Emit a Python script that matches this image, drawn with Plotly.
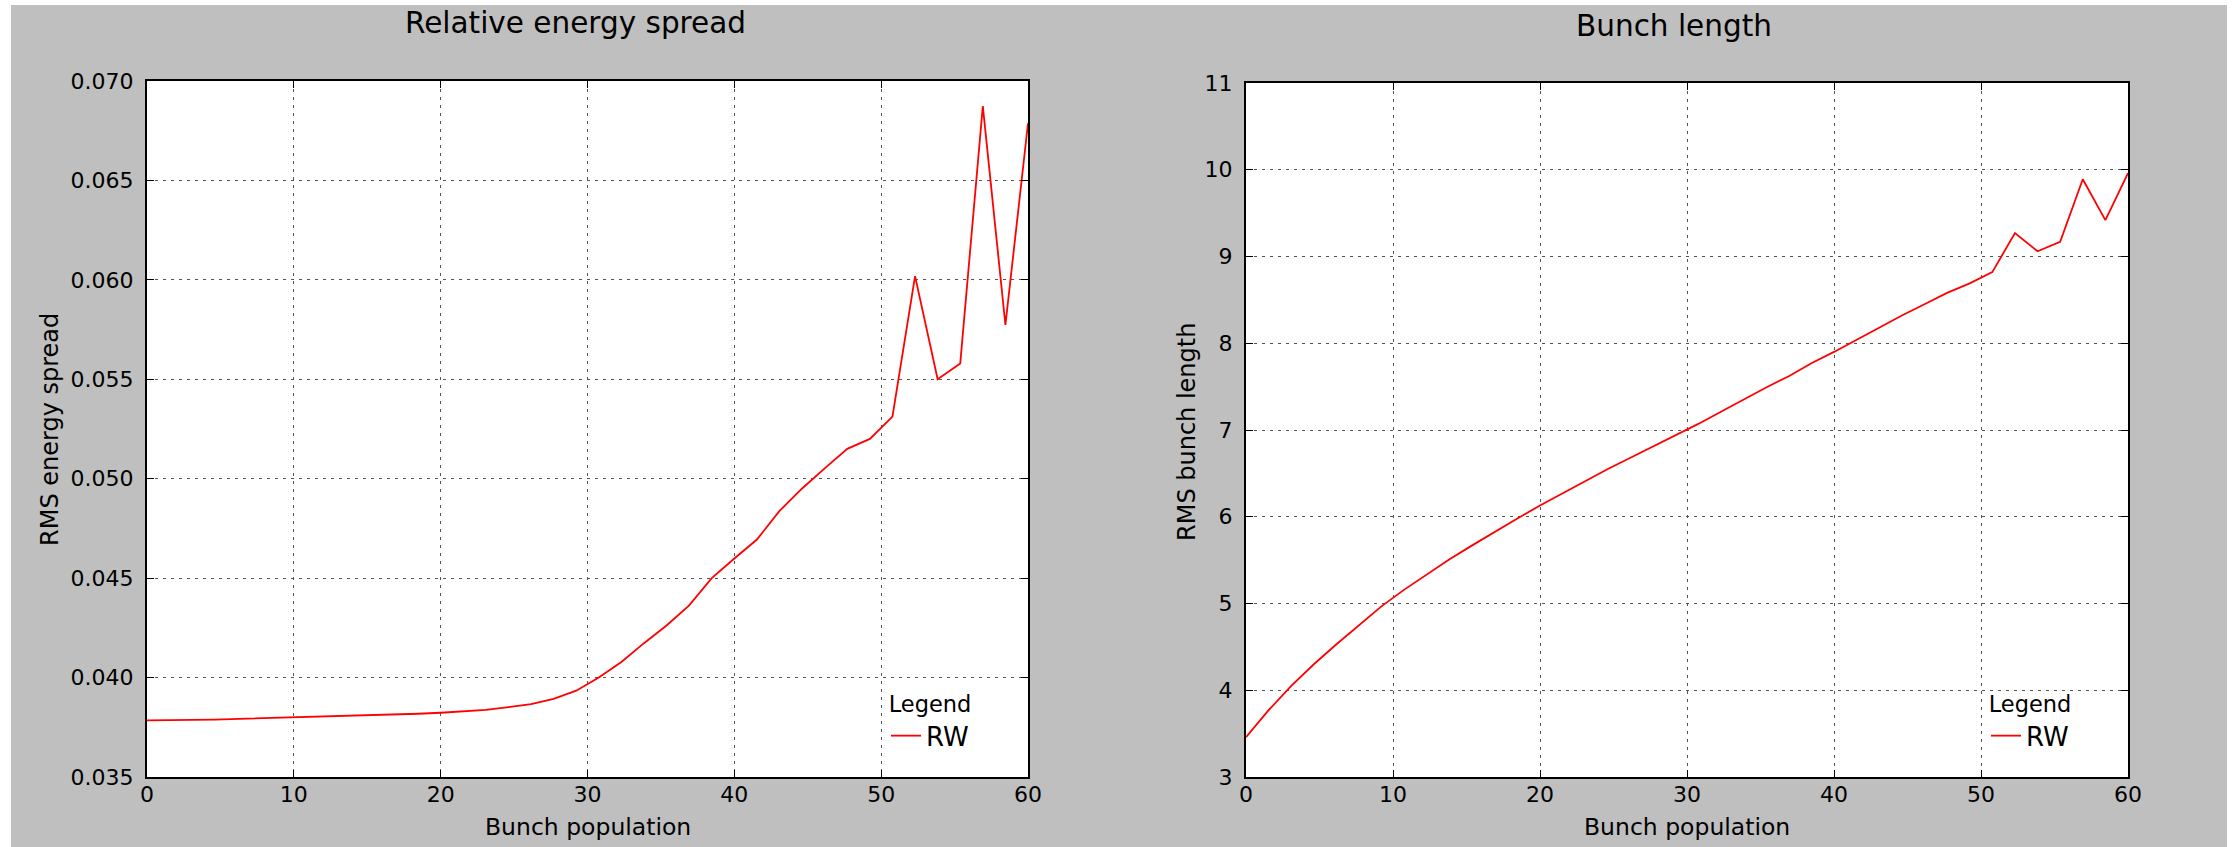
import plotly.graph_objects as go

W, H = 2236, 847

# ---- data ----
bunch_population = [0.0, 1.538, 3.077, 4.615, 6.154, 7.692, 9.231, 10.769, 12.308, 13.846,
                    15.385, 16.923, 18.462, 20.0, 21.538, 23.077, 24.615, 26.154, 27.692, 29.231,
                    30.769, 32.308, 33.846, 35.385, 36.923, 38.462, 40.0, 41.538, 43.077, 44.615,
                    46.154, 47.692, 49.231, 50.769, 52.308, 53.846, 55.385, 56.923, 58.462, 60.0]

energy_spread = [0.03785, 0.03785, 0.03787, 0.03789, 0.03792, 0.03794, 0.03797, 0.03800, 0.03803, 0.03806,
                 0.03809, 0.03813, 0.03818, 0.03823, 0.03829, 0.03838, 0.03851, 0.03866, 0.03893, 0.03934,
                 0.04000, 0.04078, 0.04173, 0.04262, 0.04363, 0.04500, 0.04599, 0.04694, 0.04838, 0.04951,
                 0.05052, 0.05150, 0.05200, 0.05312, 0.06019, 0.05500, 0.05580, 0.06874, 0.05773, 0.06787]

bunch_length = [3.46, 3.77, 4.05, 4.30, 4.53, 4.75, 4.97, 5.16, 5.34, 5.51,
                5.67, 5.83, 5.98, 6.13, 6.27, 6.41, 6.55, 6.68, 6.81, 6.94,
                7.07, 7.21, 7.35, 7.49, 7.62, 7.77, 7.90, 8.04, 8.18, 8.32,
                8.45, 8.58, 8.69, 8.82, 9.27, 9.06, 9.17, 9.89, 9.42, 9.96]

x_ticks = [0, 10, 20, 30, 40, 50, 60]
y1_ticks = [0.035, 0.040, 0.045, 0.050, 0.055, 0.060, 0.065, 0.070]
y2_ticks = [3, 4, 5, 6, 7, 8, 9, 10, 11]
series_name = "RW"

FONT = "DejaVu Sans"

def px(x):
    return x / W

def py(y):
    return 1 - y / H

fig = go.Figure()
fig.add_trace(go.Scatter(x=bunch_population, y=energy_spread, mode="lines",
                         line=dict(color="#ff0000", width=1.8),
                         name=series_name, xaxis="x", yaxis="y", legend="legend"))
fig.add_trace(go.Scatter(x=bunch_population, y=bunch_length, mode="lines",
                         line=dict(color="#ff0000", width=1.8),
                         name=series_name, xaxis="x2", yaxis="y2", legend="legend2"))

axis_common = dict(
    automargin=False,
    showline=True, linecolor="black", linewidth=2, mirror="ticks",
    ticks="inside", ticklen=7, tickwidth=1, tickcolor="black",
    showgrid=True, gridcolor="#555555", gridwidth=1, griddash="3px,5px",
    zeroline=False, tickfont=dict(family=FONT, size=22, color="black"),
)

legend_common = dict(
    xanchor="left", yanchor="bottom",
    bgcolor="rgba(0,0,0,0)", borderwidth=0,
    title=dict(text="Legend", side="top center",
               font=dict(family=FONT, size=22.5, color="black")),
    font=dict(family=FONT, size=26, color="black"),
)

fig.update_layout(
    width=W, height=H,
    margin=dict(l=0, r=0, t=0, b=0, autoexpand=False),
    paper_bgcolor="#bfbfbf", plot_bgcolor="white",
    showlegend=True,
    xaxis=dict(domain=[px(147), px(1028)], range=[0, 60], tickvals=x_ticks,
               anchor="y", ticklabelstandoff=-3, **axis_common),
    yaxis=dict(domain=[py(777), py(81)], range=[0.035, 0.070], tickvals=y1_ticks,
               tickformat=".3f", anchor="x", ticklabelstandoff=7, **axis_common),
    xaxis2=dict(domain=[px(1246), px(2128)], range=[0, 60], tickvals=x_ticks,
                anchor="y2", ticklabelstandoff=-3, **axis_common),
    yaxis2=dict(domain=[py(777), py(83)], range=[3, 11], tickvals=y2_ticks,
                anchor="x2", ticklabelstandoff=7, **axis_common),
    legend=dict(x=px(886), y=py(760), **legend_common),
    legend2=dict(x=px(1986), y=py(760), **legend_common),
)

# white outer margins around grey figure background
for (x0, x1, y0, y1) in [(0, 11, 0, H), (0, W, 0, 5), (2227, W, 0, H)]:
    fig.add_shape(type="rect", xref="paper", yref="paper",
                  x0=px(x0), x1=px(x1), y0=py(y1), y1=py(y0),
                  fillcolor="white", line=dict(width=0), layer="below")

ann = [
    dict(text="Relative energy spread", x=px(575), y=py(23), size=29.5, angle=0),
    dict(text="Bunch length", x=px(1674), y=py(26), size=29.5, angle=0),
    dict(text="Bunch population", x=px(588), y=py(827), size=23.5, angle=0),
    dict(text="Bunch population", x=px(1687), y=py(827), size=23.5, angle=0),
    dict(text="RMS energy spread", x=px(50), y=py(430), size=24, angle=-90),
    dict(text="RMS bunch length", x=px(1187), y=py(432), size=24, angle=-90),
]
for a in ann:
    fig.add_annotation(text=a["text"], x=a["x"], y=a["y"], xref="paper", yref="paper",
                       xanchor="center", yanchor="middle", showarrow=False,
                       textangle=a["angle"],
                       font=dict(family=FONT, size=a["size"], color="black"))

fig.write_html("out.html")
